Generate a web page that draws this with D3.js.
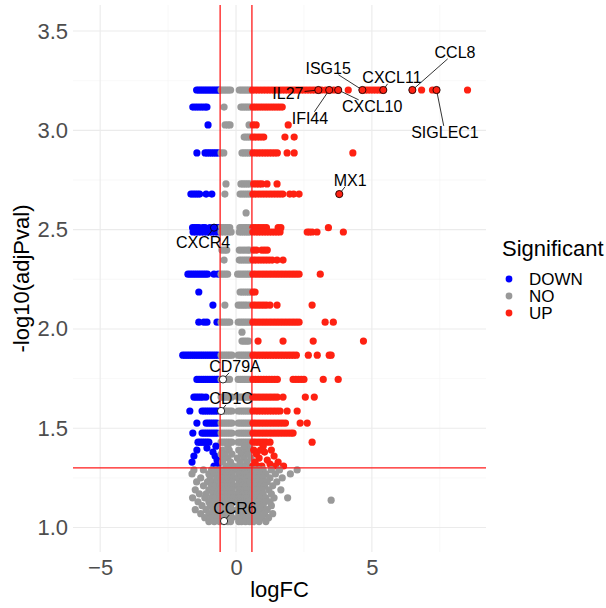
<!DOCTYPE html>
<html lang="en">
<head>
    <meta charset="UTF-8">
    <title>Volcano plot</title>
    <script src="https://d3js.org/d3.v7.min.js"></script>
    <style>
        body {
            margin: 0;
            background: #ffffff;
        }

        svg {
            font-family: "Liberation Sans", Arial, sans-serif;
        }

        .grid_major {
            stroke: #ebebeb;
            stroke-width: 1.1px;
        }

        .grid_minor {
            stroke: #f3f3f3;
            stroke-width: 0.6px;
        }

        .tick_label {
            fill: #4d4d4d;
            font-size: 22px;
        }

        .axis_title {
            fill: #000;
            font-size: 22px;
        }

        .cutoff {
            stroke: #ff1a1a;
            stroke-width: 1.3px;
        }

        .gene_label {
            font-size: 16px;
            fill: #000;
        }
    </style>
</head>

<body>
<svg id="canvas" width="606" height="608"></svg>

<script>
    // rows of tied adjusted p-values: -log10(adjPval) of the row, then logFC of every gene in it
    let rowY = [3.203, 3.117, 3.027, 2.966, 2.886, 2.73, 2.679, 2.584, 2.51, 2.488, 2.397, 2.347, 2.276,
        2.186, 2.12, 2.034, 1.984, 1.939, 1.868, 1.746, 1.657, 1.587, 1.526, 1.476, 1.43]
    let rowX = [
        [-1.45, -1.38, -1.31, -1.24, -1.17, -1.10, -1.03, -0.96, -0.89, -0.82, -0.75, -0.68, -0.62,
            -0.55, -0.48, -0.41, -0.34, -0.27, -0.20, 0.12, 0.19, 0.26, 0.33, 0.40, 0.47, 0.54,
            0.60, 0.70, 0.80, 0.90, 1.00, 1.10, 1.20, 1.30, 1.40, 1.50, 1.60, 1.70, 1.80, 1.90, 2.00, 2.10,
            2.20, 2.30, 2.40, 2.50, 2.60, 2.70, 2.80, 2.90, 3.03, 3.15, 3.30, 3.43, 3.60, 3.76, 4.13, 4.65,
            4.75, 4.85, 4.95, 5.05, 5.15, 5.25, 5.35, 5.42, 6.49, 6.83, 7.23, 7.38, 8.52],
        [-1.59, -1.50, -1.41, -1.32, -1.23, -1.14, -1.07, -0.44, 0.18, 0.25, 0.32, 0.39, 0.46, 0.53, 0.62,
            0.71, 0.80, 0.89, 0.98, 1.07, 1.16, 1.25, 1.34, 1.43, 1.52, 1.61, 1.70],
        [-1.03, -0.40, -0.30, -0.22, 0.48, 0.63, 0.74, 1.92],
        [0.30, 0.38, 0.46, 0.54, 0.62, 0.72, 0.82, 0.92, 1.02, 1.80, 2.14],
        [-1.44, -1.14, -1.06, -0.98, -0.90, -0.82, -0.74, -0.66, -0.55, -0.45, 0.22, 0.30, 0.38, 0.46, 0.54,
            0.62, 0.72, 0.82, 0.92, 1.02, 1.12, 1.22, 1.32, 1.42, 1.52, 1.88, 2.14, 4.30],
        [-0.37, 0.18, 0.26, 0.34, 0.42, 0.50, 0.65, 0.75, 0.85, 0.95, 1.14, 1.51],
        [-1.66, -1.58, -1.50, -1.42, -1.34, -1.10, -0.89, -0.41, 0.15, 0.23, 0.31, 0.39, 0.47, 0.55, 0.62,
            0.72, 0.82, 0.92, 1.02, 1.12, 1.22, 1.32, 1.42, 1.52, 1.62, 1.72, 1.98, 2.12, 2.32, 3.80],
        [0.37],
        [-1.60, -1.52, -1.44, -1.36, -1.22, -1.14, -0.96, -0.81, -0.72, -0.64, -0.55, -0.47, -0.39, -0.31,
            -0.23, 0.14, 0.22, 0.30, 0.38, 0.46, 0.54, 0.62, 0.72, 0.82, 0.92, 1.02, 1.12, 1.55, 1.65, 3.40],
        [-1.58, -1.48, -1.38, -1.28, -1.18, -1.08, -0.98, -0.88, -0.78, -0.68, -0.55, -0.45, -0.35, -0.25,
            -0.18, 0.12, 0.20, 0.28, 0.36, 0.44, 0.52, 0.62, 0.72, 0.82, 0.92, 1.02, 1.12, 1.22, 1.32, 1.42,
            1.52, 1.62, 2.62, 2.70, 2.80, 2.98, 3.95],
        [-0.52, -0.42, -0.34, 0.12, 0.22, 0.32, 0.42, 0.50, 0.65, 0.75, 0.95, 1.05, 1.15],
        [-0.44, 0.12, 0.20, 0.28, 0.36, 0.44, 0.52, 0.62, 0.72, 0.82, 0.92, 1.02, 1.12, 1.22, 1.33, 1.51, 1.73],
        [-1.77, -1.69, -1.61, -1.53, -1.45, -1.37, -1.29, -1.21, -1.13, -1.05, -0.81, -0.66, -0.55, -0.47,
            -0.39, -0.31, 0.06, 0.14, 0.22, 0.30, 0.38, 0.46, 0.54, 0.62, 0.72, 0.82, 0.92, 1.02, 1.12, 1.22,
            1.32, 1.42, 1.52, 1.62, 1.72, 1.82, 1.92, 2.02, 2.12, 2.22, 2.32, 3.10],
        [-1.37, 0.15, 0.23, 0.31, 0.39, 0.47, 0.55, 0.62, 0.70],
        [-0.85, -0.41, 0.08, 0.16, 0.24, 0.32, 0.40, 0.50, 0.62, 0.72, 0.82, 0.92, 1.02, 1.12, 1.25, 1.51, 2.80],
        [-1.37, -1.18, -1.07, -0.70, -0.55, -0.47, -0.39, -0.31, -0.23, 0.08, 0.16, 0.24, 0.32, 0.40, 0.48,
            0.56, 0.62, 0.72, 0.82, 0.92, 1.02, 1.12, 1.22, 1.32, 1.42, 1.52, 1.62, 1.72, 1.82, 1.92, 2.02,
            2.12, 2.22, 2.32, 3.28, 3.58],
        [0.22],
        [0.22, 0.30, 0.38, 0.46, 0.81, 1.73, 2.84, 4.69],
        [-1.96, -1.88, -1.80, -1.72, -1.64, -1.56, -1.48, -1.40, -1.32, -1.24, -1.16, -1.08, -1.00, -0.92,
            -0.84, -0.76, -0.68, -0.55, -0.47, -0.39, -0.31, -0.23, -0.15, 0.08, 0.16, 0.24, 0.32, 0.40, 0.48,
            0.56, 0.62, 0.72, 0.82, 0.92, 1.02, 1.12, 1.22, 1.32, 1.42, 1.52, 1.62, 1.72, 1.82, 1.92, 2.02,
            2.12, 2.22, 2.66, 2.99, 3.43, 3.50],
        [-1.44, -1.36, -1.28, -1.20, -1.12, -1.04, -0.96, -0.88, -0.80, -0.72, -0.66, -0.55, -0.40, -0.32,
            -0.24, 0.08, 0.16, 0.24, 0.32, 0.40, 0.48, 0.56, 0.62, 0.72, 0.82, 0.92, 1.02, 1.12, 1.22, 1.32,
            1.42, 1.52, 2.10, 2.20, 2.30, 2.40, 2.50, 3.21, 3.76],
        [-1.55, -1.47, -1.39, -1.31, -1.23, -1.11, -0.55, -0.47, -0.39, -0.31, -0.23, -0.15, 0.08, 0.16, 0.24,
            0.32, 0.40, 0.48, 0.56, 0.62, 0.72, 0.82, 0.92, 1.02, 1.12, 1.22, 1.32, 1.42, 1.52, 1.73, 2.55, 2.88],
        [-1.70, -1.25, -1.17, -1.09, -1.01, -0.93, -0.85, -0.77, -0.69, -0.47, -0.39, -0.31, -0.23, -0.15,
            0.08, 0.16, 0.24, 0.32, 0.40, 0.48, 0.56, 0.62, 0.72, 0.82, 0.92, 1.02, 1.12, 1.22, 1.32, 1.42,
            1.52, 1.62, 1.88, 2.25],
        [-1.44, -1.10, -1.02, -0.94, -0.86, -0.78, -0.70, -0.55, -0.47, -0.39, -0.31, -0.23, -0.15, 0.08,
            0.16, 0.24, 0.32, 0.40, 0.48, 0.56, 0.62, 0.72, 0.82, 0.92, 1.02, 1.12, 1.22, 1.32, 1.42, 1.52,
            1.62, 1.72, 1.82, 2.36, 2.62],
        [-1.59, -1.25, -1.17, -1.09, -1.01, -0.93, -0.85, -0.77, -0.69, -0.55, -0.47, -0.39, -0.31, -0.23,
            -0.15, 0.08, 0.16, 0.24, 0.32, 0.40, 0.48, 0.56, 0.62, 0.72, 0.82, 0.92, 1.02, 1.12, 1.22, 1.32,
            1.42, 1.52, 1.62, 1.72, 1.82, 1.92, 2.02, 2.10],
        [-1.40, -1.32, -1.24, -1.16, -1.08, -1.00, -0.55, -0.47, -0.39, -0.31, -0.23, -0.15, 0.08, 0.16,
            0.24, 0.32, 0.40, 0.48, 0.56, 0.62, 0.72, 0.82, 0.92, 1.02, 1.12, 1.25, 2.80]
    ]

    // loose genes just above the cut-off, plus the lone outlier
    let bandX = [-1.62, -1.44, -1.07, -0.85, -0.77, -0.70, -0.66, -0.81, -0.74, -1.55,
        -0.50, -0.40, -0.30, -0.20, -0.50, -0.35, -0.45, -0.25, 0.10, 0.20, 0.30, 0.40, 0.50, 0.15, 0.35,
        0.45, 0.25, 0.55, -0.55, 0.05, -0.15, -0.10, 0.10, 0.50, -0.30, 0.30,
        0.65, 0.75, 0.85, 0.70, 0.95, 1.05, 1.15, 1.25, 0.62, 1.40, 1.55, 1.30, 1.75, 0.80, 1.00, 0.90, 1.45,
        3.50]
    let bandY = [1.33, 1.39, 1.40, 1.38, 1.36, 1.34, 1.32, 1.31, 1.41, 1.36,
        1.39, 1.37, 1.35, 1.33, 1.33, 1.31, 1.35, 1.39, 1.39, 1.37, 1.35, 1.33, 1.31, 1.33, 1.39,
        1.37, 1.31, 1.35, 1.37, 1.35, 1.37, 1.31, 1.31, 1.40, 1.41, 1.41,
        1.39, 1.37, 1.35, 1.33, 1.31, 1.38, 1.34, 1.32, 1.31, 1.36, 1.33, 1.39, 1.31, 1.31, 1.41, 1.39, 1.31,
        1.138]

    // non significant cloud under the cut-off
    let cloudY = [1.29, 1.27, 1.25, 1.23, 1.21, 1.19, 1.17, 1.15, 1.13, 1.11, 1.09, 1.07, 1.05, 1.03]
    let cloudX = [
        [-1.55, -1.2, -0.9, -0.75, -0.6, -0.5, -0.4, -0.3, -0.2, -0.1, 0.05, 0.15, 0.25, 0.35, 0.45, 0.55, 0.7, 0.85, 1.0, 1.3, 1.6, 2.25],
        [-1.62, -1.0, -0.8, -0.65, -0.55, -0.45, -0.35, -0.25, -0.15, 0.1, 0.2, 0.3, 0.4, 0.5, 0.6, 0.75, 0.9, 1.1, 1.45, 2.0],
        [-1.3, -0.95, -0.7, -0.6, -0.5, -0.4, -0.3, -0.2, -0.1, 0.08, 0.18, 0.28, 0.38, 0.48, 0.58, 0.7, 0.85, 1.0, 1.25, 1.7],
        [-1.45, -1.05, -0.85, -0.7, -0.55, -0.45, -0.35, -0.25, -0.15, 0.12, 0.22, 0.32, 0.42, 0.52, 0.65, 0.8, 0.95, 1.15, 1.5],
        [-1.2, -0.9, -0.75, -0.6, -0.5, -0.4, -0.3, -0.2, -0.1, 0.06, 0.16, 0.26, 0.36, 0.46, 0.56, 0.7, 0.9, 1.05, 1.35],
        [-1.5, -1.0, -0.8, -0.65, -0.55, -0.45, -0.35, -0.25, -0.15, 0.1, 0.2, 0.3, 0.4, 0.5, 0.62, 0.78, 0.95, 1.2, 1.65],
        [-1.35, -1.1, -0.85, -0.7, -0.6, -0.5, -0.4, -0.3, -0.2, 0.05, 0.15, 0.25, 0.35, 0.45, 0.55, 0.68, 0.85, 1.0, 1.3],
        [-1.6, -1.15, -0.9, -0.75, -0.6, -0.5, -0.4, -0.3, -0.2, -0.1, 0.1, 0.2, 0.3, 0.4, 0.5, 0.6, 0.75, 0.9, 1.1, 1.4, 1.9],
        [-1.4, -1.0, -0.8, -0.65, -0.55, -0.45, -0.35, -0.25, -0.15, 0.08, 0.18, 0.28, 0.38, 0.48, 0.58, 0.7, 0.85, 1.05, 1.25],
        [-1.25, -0.95, -0.75, -0.6, -0.5, -0.4, -0.3, -0.2, 0.12, 0.22, 0.32, 0.42, 0.52, 0.65, 0.8, 1.0, 1.3],
        [-1.5, -1.1, -0.85, -0.7, -0.55, -0.45, -0.35, -0.25, -0.15, 0.05, 0.15, 0.25, 0.35, 0.45, 0.55, 0.7, 0.9, 1.15],
        [-1.3, -1.0, -0.8, -0.65, -0.5, -0.4, -0.3, -0.2, 0.1, 0.2, 0.3, 0.4, 0.5, 0.62, 0.8, 1.05, 1.35],
        [-1.15, -0.9, -0.7, -0.55, -0.45, -0.35, -0.25, -0.15, 0.08, 0.18, 0.28, 0.38, 0.48, 0.6, 0.75, 0.95, 1.2],
        [-1.0, -0.8, -0.6, -0.45, -0.3, -0.2, 0.1, 0.2, 0.35, 0.5, 0.65, 0.85, 1.1]
    ]

    // labelled genes: point (logFC, -log10 adjPval) and where the repelled text sits
    let labelGenes = ['IL27', 'IFI44', 'CXCL10', 'ISG15', 'CXCL11', 'CCL8', 'SIGLEC1', 'MX1', 'CXCR4', 'CD79A', 'CD1C', 'CCR6']
    let labelX = [3.03, 3.43, 3.76, 4.65, 5.42, 6.49, 7.38, 3.80, -0.81, -0.48, -0.55, -0.44]
    let labelY = [3.203, 3.203, 3.203, 3.203, 3.203, 3.203, 3.203, 2.679, 2.51, 1.746, 1.587, 1.033]
    let textX = [1.91, 2.72, 5.01, 3.39, 5.74, 8.06, 7.69, 4.20, -1.21, -0.04, -0.18, -0.04]
    let textY = [3.188, 3.062, 3.122, 3.314, 3.268, 3.394, 2.991, 2.750, 2.437, 1.813, 1.652, 1.098]

    let groups = ['DOWN', 'NO', 'UP']
    let xBreaks = [-5, 0, 5]
    let xMinor = [-2.5, 2.5, 7.5]
    let yBreaks = [1.0, 1.5, 2.0, 2.5, 3.0, 3.5]
    let yMinor = [1.25, 1.75, 2.25, 2.75, 3.25]

    const pCut = -Math.log10(0.05)
    const fcCut = Math.log2(1.5)

    let color = d3.scaleOrdinal().domain(groups).range(['#0000ff', '#999999', '#fe2112'])

    function significance(fc, p) {
        if (p > pCut && fc > fcCut) return 'UP'
        if (p > pCut && fc < -fcCut) return 'DOWN'
        return 'NO'
    }

    let points = []
    rowY.forEach(function (yv, i) {
        rowX[i].forEach(function (xv) { points.push({x: xv, y: yv}) })
    })
    bandX.forEach(function (xv, i) { points.push({x: xv, y: bandY[i]}) })
    cloudY.forEach(function (yv, i) {
        cloudX[i].forEach(function (xv) { points.push({x: xv, y: yv}) })
    })
    points.forEach(function (d) { d.sig = significance(d.x, d.y) })

    let svg = d3.select('#canvas')
    let panel = {left: 73, right: 486, top: 5, bottom: 552}

    let x = d3.scaleLinear().domain([-6.0, 9.2]).range([panel.left, panel.right])
    let y = d3.scaleLinear().domain([0.877, 3.631]).range([panel.bottom, panel.top])

    // grid
    let grid = svg.append('g')
    grid.selectAll('.minx').data(xMinor).enter().append('line')
        .attr('class', 'grid_minor')
        .attr('x1', d => x(d)).attr('x2', d => x(d))
        .attr('y1', panel.top).attr('y2', panel.bottom)
    grid.selectAll('.miny').data(yMinor).enter().append('line')
        .attr('class', 'grid_minor')
        .attr('x1', panel.left).attr('x2', panel.right)
        .attr('y1', d => y(d)).attr('y2', d => y(d))
    grid.selectAll('.majx').data(xBreaks).enter().append('line')
        .attr('class', 'grid_major')
        .attr('x1', d => x(d)).attr('x2', d => x(d))
        .attr('y1', panel.top).attr('y2', panel.bottom)
    grid.selectAll('.majy').data(yBreaks).enter().append('line')
        .attr('class', 'grid_major')
        .attr('x1', panel.left).attr('x2', panel.right)
        .attr('y1', d => y(d)).attr('y2', d => y(d))

    // points
    svg.append('g').selectAll('circle')
        .data(points)
        .enter()
        .append('circle')
        .attr('cx', d => x(d.x))
        .attr('cy', d => y(d.y))
        .attr('r', 3.6)
        .attr('fill', d => color(d.sig))

    // cut-off lines
    let cuts = svg.append('g')
    cuts.append('line').attr('class', 'cutoff')
        .attr('x1', panel.left).attr('x2', panel.right)
        .attr('y1', y(pCut)).attr('y2', y(pCut))
    cuts.selectAll('.vcut').data([-fcCut, fcCut]).enter().append('line')
        .attr('class', 'cutoff')
        .attr('x1', d => x(d)).attr('x2', d => x(d))
        .attr('y1', panel.top).attr('y2', panel.bottom)

    // axes (text only, like theme_minimal)
    let xAxis = svg.append('g')
        .attr('transform', 'translate(0,' + panel.bottom + ')')
        .call(d3.axisBottom(x).tickValues(xBreaks).tickSize(0).tickPadding(7).tickFormat(d3.format('d')))
    let yAxis = svg.append('g')
        .attr('transform', 'translate(' + panel.left + ',0)')
        .call(d3.axisLeft(y).tickValues(yBreaks).tickSize(0).tickPadding(5).tickFormat(d3.format('.1f')))
    ;[xAxis, yAxis].forEach(function (ax) {
        ax.select('.domain').remove()
        ax.selectAll('text').attr('class', 'tick_label').attr('font-family', null).attr('font-size', null)
    })

    svg.append('text')
        .attr('class', 'axis_title')
        .attr('x', (panel.left + panel.right) / 2)
        .attr('y', 597)
        .attr('text-anchor', 'middle')
        .text('logFC')
    svg.append('text')
        .attr('class', 'axis_title')
        .attr('transform', 'translate(29,' + (panel.top + panel.bottom) / 2 + ') rotate(-90)')
        .attr('text-anchor', 'middle')
        .text('-log10(adjPval)')

    // labelled genes
    let labels = labelGenes.map(function (g, i) {
        return {gene: g, x: labelX[i], y: labelY[i], tx: textX[i], ty: textY[i], sig: significance(labelX[i], labelY[i])}
    })
    let lab = svg.append('g')
    let segs = lab.append('g')
    lab.selectAll('circle')
        .data(labels)
        .enter()
        .append('circle')
        .attr('cx', d => x(d.x))
        .attr('cy', d => y(d.y))
        .attr('r', 3.6)
        .attr('fill', d => d.sig === 'NO' ? '#ffffff' : color(d.sig))
        .attr('stroke', '#000')
        .attr('stroke-width', 0.8)
    lab.selectAll('text')
        .data(labels)
        .enter()
        .append('text')
        .attr('class', 'gene_label')
        .attr('x', d => x(d.tx))
        .attr('y', d => y(d.ty))
        .attr('dy', '0.36em')
        .attr('text-anchor', 'middle')
        .text(d => d.gene)
        .each(function (d) {
            // segment from text box edge to the point, skipped when too short
            let b = this.getBBox()
            let cx = b.x + b.width / 2, cy = b.y + b.height / 2
            let px = x(d.x), py = y(d.y)
            let dx = px - cx, dy = py - cy
            let hw = b.width / 2 + 1, hh = b.height / 2 - 2
            let t = Math.min(dx === 0 ? Infinity : hw / Math.abs(dx), dy === 0 ? Infinity : hh / Math.abs(dy))
            if (t >= 1) return
            let ex = cx + dx * t, ey = cy + dy * t
            let len = Math.hypot(px - ex, py - ey)
            if (len < 6) return
            segs.append('line')
                .attr('x1', ex).attr('y1', ey)
                .attr('x2', px).attr('y2', py)
                .attr('stroke', '#000')
                .attr('stroke-width', 0.8)
        })

    // legend
    let legend = svg.append('g').attr('transform', 'translate(502,0)')
    legend.append('text')
        .attr('class', 'axis_title')
        .attr('x', 0)
        .attr('y', 256)
        .text('Significant')
    let items = legend.selectAll('.item')
        .data(groups)
        .enter()
        .append('g')
        .attr('transform', (d, i) => 'translate(0,' + (279 + i * 17) + ')')
    items.append('circle')
        .attr('cx', 7)
        .attr('r', 3.4)
        .attr('fill', d => color(d))
    items.append('text')
        .attr('x', 27)
        .attr('dy', '0.36em')
        .attr('font-size', '17px')
        .text(d => d)
</script>
</body>
</html>
